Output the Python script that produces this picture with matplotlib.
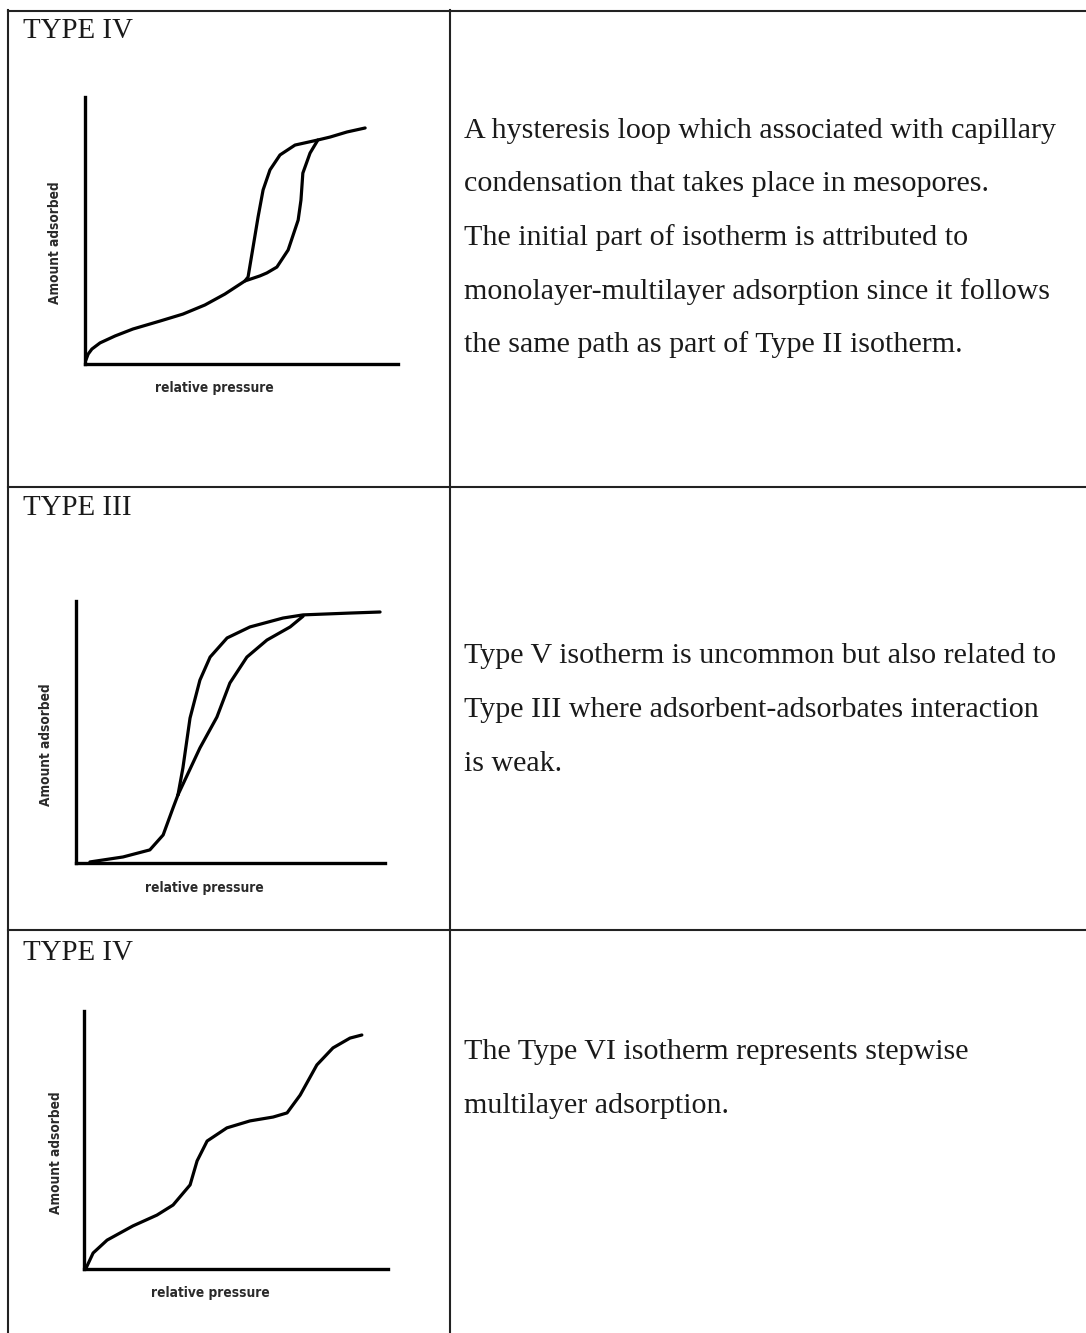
import matplotlib
matplotlib.use("Agg")
import matplotlib.pyplot as plt
from matplotlib.lines import Line2D

W, H = 1086, 1333

# panel titles and descriptions
titles = ["TYPE IV", "TYPE III", "TYPE IV"]
descriptions = [
    ["A hysteresis loop which associated with capillary",
     "condensation that takes place in mesopores.",
     "The initial part of isotherm is attributed to",
     "monolayer-multilayer adsorption since it follows",
     "the same path as part of Type II isotherm."],
    ["Type V isotherm is uncommon but also related to",
     "Type III where adsorbent-adsorbates interaction",
     "is weak."],
    ["The Type VI isotherm represents stepwise",
     "multilayer adsorption."],
]
x_label = "relative pressure"
y_label = "Amount adsorbed"

# sketch curves (relative pressure, amount adsorbed) in arbitrary 0-100 units
p1_ads_x = [0.3, 1.0, 2.2, 4.8, 9.6, 15.3, 24.0, 31.3, 38.3, 44.7, 51.1, 55.9, 58.1,
            61.3, 64.9, 68.1, 69.0, 69.6, 71.9, 74.4, 78.3, 83.7, 89.5]
p1_ads_y = [1.5, 3.7, 5.6, 7.9, 10.5, 13.1, 16.1, 18.7, 22.1, 26.2, 31.1, 33.0, 34.1,
            36.3, 42.7, 53.9, 61.4, 71.5, 79.0, 83.9, 85.0, 86.9, 88.4]
p1_des_x = [51.1, 52.1, 53.7, 55.3, 56.9, 59.1, 62.3, 67.1, 74.4]
p1_des_y = [31.1, 32.6, 43.8, 55.1, 65.2, 72.7, 78.3, 82.0, 83.9]

p2_base_x = [4.5, 15.2, 23.9, 28.2, 31.4, 33.0]
p2_base_y = [0.4, 2.3, 5.0, 10.7, 21.0, 26.0]
p2_des_x = [33.0, 34.6, 36.9, 40.1, 43.4, 48.9, 56.3, 67.0, 73.5, 88.7, 98.4]
p2_des_y = [26.0, 36.3, 55.3, 69.8, 78.6, 85.9, 90.1, 93.5, 94.7, 95.4, 95.8]
p2_ads_x = [33.0, 40.1, 45.6, 49.8, 55.3, 61.8, 69.3, 73.5]
p2_ads_y = [26.0, 43.9, 55.7, 68.7, 78.6, 85.1, 90.1, 94.2]

p3_x = [0.7, 3.0, 7.6, 16.1, 24.0, 29.3, 34.9, 37.2, 40.5, 47.0, 54.6, 62.2, 66.8,
        71.1, 76.6, 81.9, 87.5, 91.4]
p3_y = [0.4, 6.2, 11.2, 16.7, 20.9, 24.8, 32.6, 41.9, 49.6, 54.7, 57.4, 58.9, 60.5,
        67.4, 79.1, 85.7, 89.5, 90.7]

curves = [
    [(p1_ads_x, p1_ads_y), (p1_des_x, p1_des_y)],
    [(p2_base_x, p2_base_y), (p2_des_x, p2_des_y), (p2_ads_x, p2_ads_y)],
    [(p3_x, p3_y)],
]

# layout in pixels: axes box (left, right, top, bottom)
boxes = [(85, 398, 97, 364), (76, 385, 601, 863), (84, 388, 1011, 1269)]
ylab_pos = [(55, 243), (46, 745), (56, 1153)]
xlab_pos = [(214, 388), (204, 888), (210, 1293)]
title_base = [38, 515, 960]
desc_base = [[138, 191, 245, 299, 352], [663, 717, 771], [1059, 1113]]


def fx(x):
    return x / W


def fy(y):
    return 1 - y / H


fig = plt.figure(figsize=(W / 100, H / 100), dpi=100)
fig.patch.set_facecolor("white")

# table grid
grid_kw = dict(color="#222222", lw=1.5, transform=fig.transFigure)
fig.add_artist(Line2D([fx(8), fx(W)], [fy(10.5), fy(10.5)], **grid_kw))
fig.add_artist(Line2D([fx(8), fx(W)], [fy(487), fy(487)], **grid_kw))
fig.add_artist(Line2D([fx(8), fx(W)], [fy(930), fy(930)], **grid_kw))
fig.add_artist(Line2D([fx(8), fx(8)], [fy(10), fy(H)], **grid_kw))
fig.add_artist(Line2D([fx(450), fx(450)], [fy(10), fy(H)], **grid_kw))

for i in range(3):
    l, r, t, b = boxes[i]
    ax = fig.add_axes([fx(l), fy(b), (r - l) / W, (b - t) / H])
    for xs, ys in curves[i]:
        ax.plot(xs, ys, color="black", lw=2.3, solid_joinstyle="round",
                solid_capstyle="round", clip_on=False)
    ax.set_xlim(0, 100)
    ax.set_ylim(0, 100)
    ax.spines[["top", "right"]].set_visible(False)
    ax.spines[["left", "bottom"]].set_linewidth(2.4)
    ax.set_xticks([])
    ax.set_yticks([])
    ax.patch.set_alpha(0)

    fig.text(fx(ylab_pos[i][0]), fy(ylab_pos[i][1]), y_label, rotation=90,
             ha="center", va="center", fontsize=9.8, fontweight="bold",
             fontstretch="condensed", color="#2a2a2a")
    fig.text(fx(xlab_pos[i][0]), fy(xlab_pos[i][1]), x_label,
             ha="center", va="center", fontsize=9.8, fontweight="bold",
             fontstretch="condensed", color="#2a2a2a")

    fig.text(fx(23), fy(title_base[i]), titles[i], ha="left", va="baseline",
             fontsize=20.8, family="Liberation Serif", color="#1a1a1a")
    for line, yb in zip(descriptions[i], desc_base[i]):
        fig.text(fx(464), fy(yb), line, ha="left", va="baseline",
                 fontsize=21.6, family="Liberation Serif", color="#1a1a1a")

fig.savefig("out.png", dpi=100, facecolor="white")
